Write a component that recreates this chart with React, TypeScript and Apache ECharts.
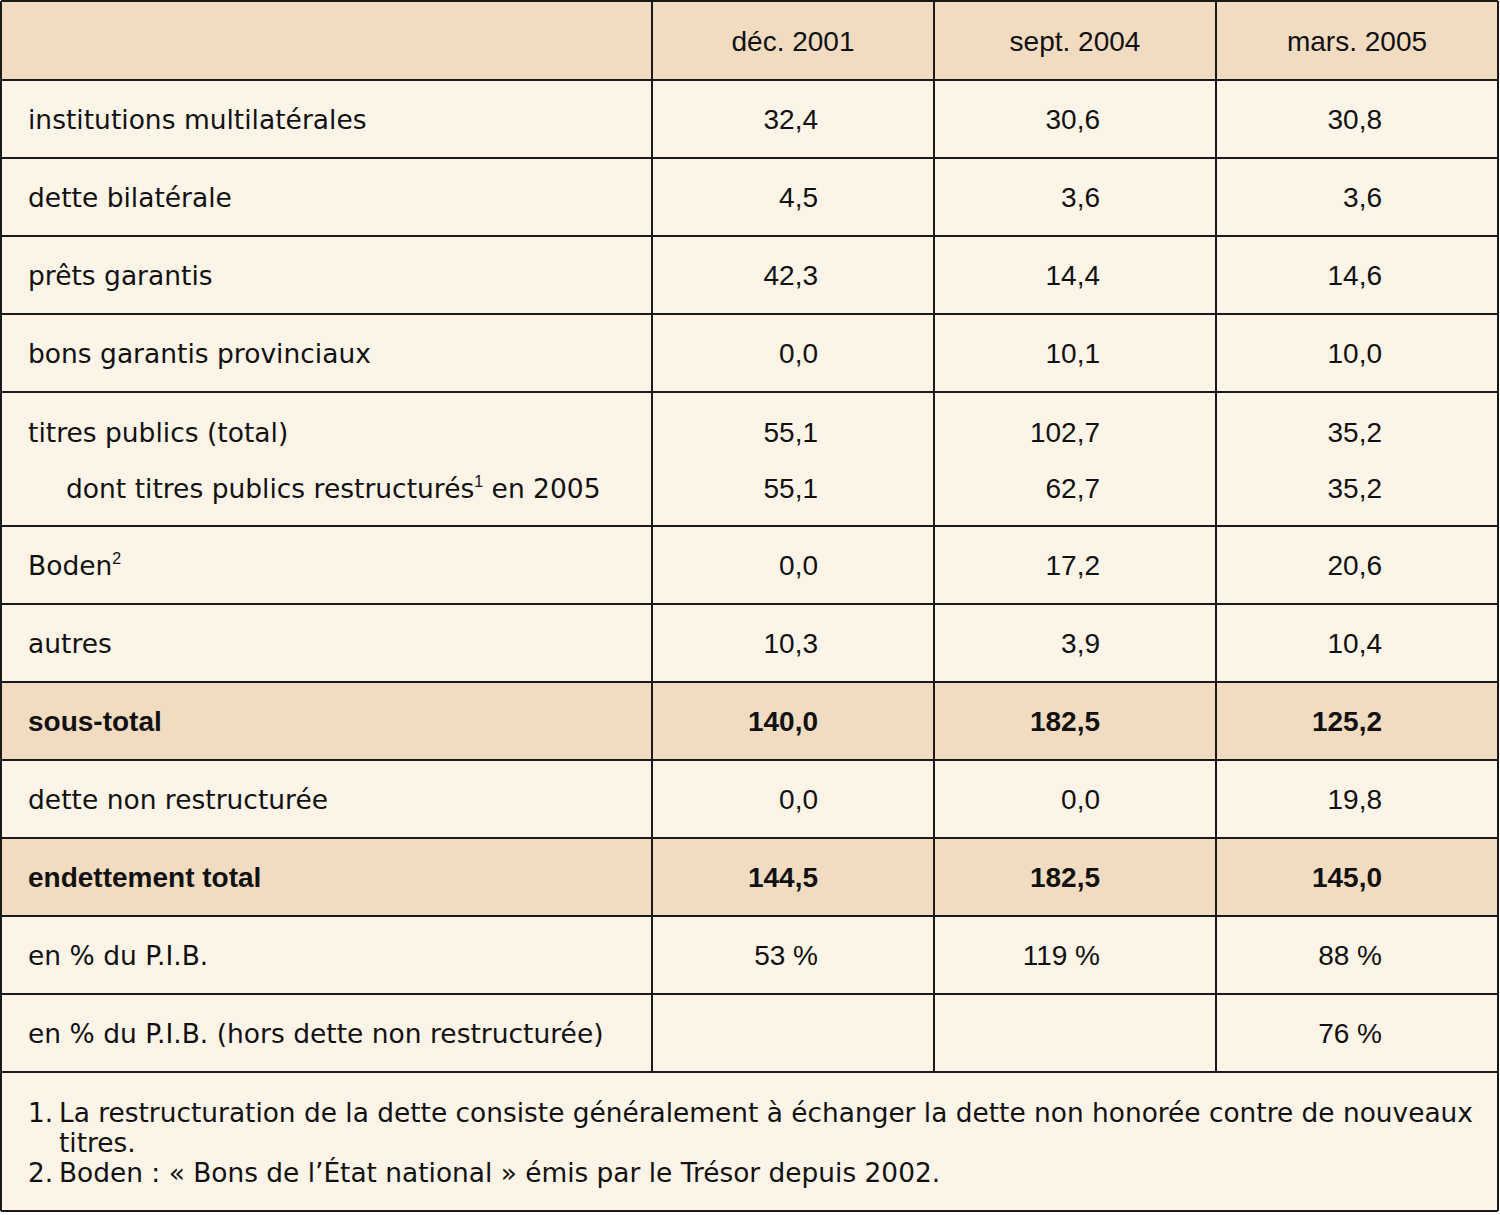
import React, { useEffect, useRef } from "react";
import * as echarts from "echarts";

const headers = ["", "déc. 2001", "sept. 2004", "mars. 2005"];
const rowLabels = [
  "institutions multilatérales",
  "dette bilatérale",
  "prêts garantis",
  "bons garantis provinciaux",
  "titres publics (total)",
  "dont titres publics restructurés{sup|1} en 2005",
  "Boden{sup|2}",
  "autres",
  "sous-total",
  "dette non restructurée",
  "endettement total",
  "en % du P.I.B.",
  "en % du P.I.B. (hors dette non restructurée)",
];
const dec2001 = ["32,4", "4,5", "42,3", "0,0", "55,1", "55,1", "0,0", "10,3", "140,0", "0,0", "144,5", "53 %", ""];
const sept2004 = ["30,6", "3,6", "14,4", "10,1", "102,7", "62,7", "17,2", "3,9", "182,5", "0,0", "182,5", "119 %", ""];
const mars2005 = ["30,8", "3,6", "14,6", "10,0", "35,2", "35,2", "20,6", "10,4", "125,2", "19,8", "145,0", "88 %", "76 %"];
const boldRows = [8, 10];
const subRows = [5];
const footnotes = [
  { num: "1.", lines: ["La restructuration de la dette consiste généralement à échanger la dette non honorée contre de nouveaux", "titres."] },
  { num: "2.", lines: ["Boden : « Bons de l’État national » émis par le Trésor depuis 2002."] },
];

const LABEL_FONT = "DejaVu Sans";
const NUM_FONT = "Liberation Sans";
const HEADER_BG = "#f2dcc1";
const BODY_BG = "#fdf4e8";
const LINE = "#1a1a1a";
const TEXT = "#111111";

export default function App() {
  const ref = useRef<HTMLDivElement>(null);
  useEffect(() => {
    document.body.style.margin = "0";
    const chart = echarts.init(ref.current!, null, { renderer: "svg" });
    const colX = [1, 652, 934, 1216, 1498];
    const cellRows: number[][] = [[0], [1], [2], [3], [4, 5], [6], [7], [8], [9], [10], [11], [12]];
    const rowH = 78;
    const subLineH = 56;
    const headerTop = 1;
    const headerBottom = 80;
    const els: any[] = [];
    els.push({ type: "rect", shape: { x: colX[0], y: headerTop, width: colX[4] - colX[0], height: 1211 - headerTop }, style: { fill: BODY_BG } });
    els.push({ type: "rect", shape: { x: colX[0], y: headerTop, width: colX[4] - colX[0], height: headerBottom - headerTop }, style: { fill: HEADER_BG } });
    const hLines: number[] = [headerTop, headerBottom];
    let y = headerBottom;
    const textEls: any[] = [];
    const colVals = [dec2001, sept2004, mars2005];
    cellRows.forEach((idxs) => {
      const h = rowH + (idxs.length - 1) * subLineH;
      const bold = idxs.some((i) => boldRows.includes(i));
      if (bold) {
        els.push({ type: "rect", shape: { x: colX[0], y, width: colX[4] - colX[0], height: h }, style: { fill: HEADER_BG } });
      }
      idxs.forEach((i, k) => {
        const cy = idxs.length > 1 ? y + 40 + k * subLineH : y + h / 2;
        const isBold = boldRows.includes(i);
        const labelFont = isBold ? `bold 28px "${NUM_FONT}"` : `normal 26.5px "${LABEL_FONT}"`;
        textEls.push({
          type: "text",
          x: subRows.includes(i) ? 66 : 28,
          y: cy,
          style: {
            text: rowLabels[i],
            font: labelFont,
            fill: TEXT,
            verticalAlign: "middle",
            align: "left",
            lineHeight: 30,
            rich: {
              sup: { fontSize: 16, fontFamily: NUM_FONT, verticalAlign: "top", lineHeight: 30, fill: TEXT },
            },
          },
        });
        colVals.forEach((vals, c) => {
          if (!vals[i]) return;
          textEls.push({
            type: "text",
            x: colX[c + 2] - 116,
            y: cy,
            style: {
              text: vals[i],
              font: `${isBold ? "bold" : "normal"} 28px "${NUM_FONT}"`,
              fill: TEXT,
              verticalAlign: "middle",
              align: "right",
            },
          });
        });
      });
      y += h;
      hLines.push(y);
    });
    const tableBottom = y;
    hLines.push(1211);
    headers.forEach((hd, c) => {
      if (!hd) return;
      textEls.push({
        type: "text",
        x: (colX[c] + colX[c + 1]) / 2,
        y: (headerTop + headerBottom) / 2 + 1,
        style: { text: hd, font: `normal 28px "${NUM_FONT}"`, fill: TEXT, align: "center", verticalAlign: "middle" },
      });
    });
    let fy = 1112;
    footnotes.forEach((f) => {
      textEls.push({ type: "text", x: 28, y: fy, style: { text: f.num, font: `normal 26.4px "${LABEL_FONT}"`, fill: TEXT, verticalAlign: "middle" } });
      f.lines.forEach((ln) => {
        textEls.push({ type: "text", x: 59, y: fy, style: { text: ln, font: `normal 26.4px "${LABEL_FONT}"`, fill: TEXT, verticalAlign: "middle" } });
        fy += 30;
      });
    });
    hLines.forEach((ly) => {
      els.push({ type: "line", shape: { x1: colX[0], y1: ly, x2: colX[4], y2: ly }, style: { stroke: LINE, lineWidth: 2 } });
    });
    colX.forEach((lx, i) => {
      const yEnd = i === 0 || i === colX.length - 1 ? 1211 : tableBottom;
      els.push({ type: "line", shape: { x1: lx, y1: headerTop, x2: lx, y2: yEnd }, style: { stroke: LINE, lineWidth: 2 } });
    });
    chart.setOption({ animation: false, graphic: { elements: [...els, ...textEls] } });
    return () => chart.dispose();
  }, []);
  return <div ref={ref} style={{ width: 1500, height: 1215 }} />;
}
